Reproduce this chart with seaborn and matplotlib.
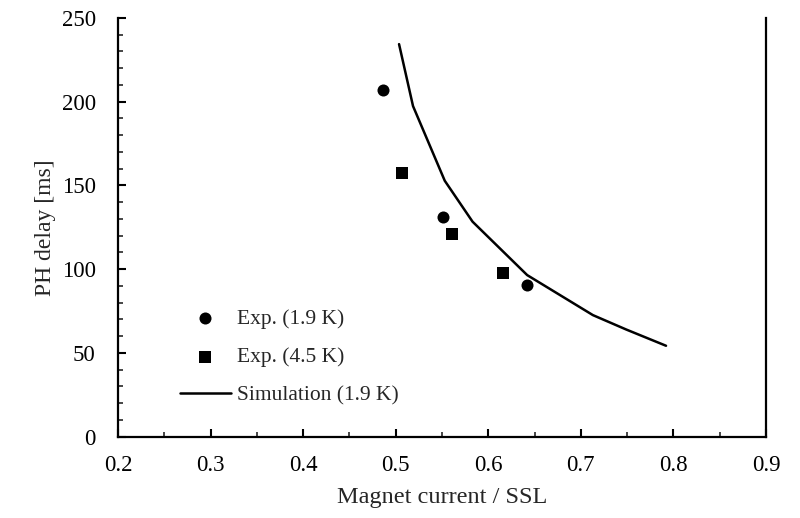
import matplotlib
matplotlib.use("Agg")
import matplotlib.pyplot as plt
import seaborn as sns
import pandas as pd
from matplotlib.ticker import MultipleLocator

# Data
exp19_x = [0.486, 0.551, 0.642]
exp19_y = [207.0, 131.0, 90.6]
exp45_x = [0.507, 0.561, 0.616]
exp45_y = [157.6, 121.0, 97.9]
sim_x = [0.5036, 0.5187, 0.553, 0.583, 0.642, 0.713, 0.749, 0.792]
sim_y = [234.4, 197.4, 152.8, 128.4, 96.5, 72.6, 64.0, 54.3]

sns.set_style("ticks")
plt.rcParams['font.family'] = ['Liberation Serif', 'DejaVu Serif']
plt.rcParams['mathtext.fontset'] = 'stix'

fig = plt.figure(figsize=(8, 5.18), dpi=100)
ax = fig.add_axes([118/800, 1-436.7/518, (766-118)/800, (436.7-18)/518])

df19 = pd.DataFrame({"x": exp19_x, "y": exp19_y})
df45 = pd.DataFrame({"x": exp45_x, "y": exp45_y})
dfs = pd.DataFrame({"x": sim_x, "y": sim_y})

sns.scatterplot(data=df19, x="x", y="y", ax=ax, marker="o", s=75, color="black",
                edgecolor="black", linewidth=0, label="Exp. (1.9 K)", zorder=3)
sns.scatterplot(data=df45, x="x", y="y", ax=ax, marker="s", s=70, color="black",
                edgecolor="black", linewidth=0, label="Exp. (4.5 K)", zorder=3)
sns.lineplot(data=dfs, x="x", y="y", ax=ax, color="black", linewidth=1.8,
             label="Simulation (1.9 K)", sort=False, estimator=None)

ax.set_xlim(0.2, 0.9)
ax.set_ylim(0, 250)
ax.xaxis.set_major_locator(MultipleLocator(0.1))
ax.xaxis.set_minor_locator(MultipleLocator(0.05))
ax.yaxis.set_major_locator(MultipleLocator(50))
ax.yaxis.set_minor_locator(MultipleLocator(10))
ax.set_xticklabels([f"{v:.1f}" for v in ax.get_xticks()])
ax.tick_params(which="major", direction="in", length=6, width=1.5, labelsize=16.5, colors="black")
ax.tick_params(which="minor", direction="in", length=3.5, width=1.2)
ax.tick_params(axis="x", which="major", pad=13)
ax.tick_params(axis="y", which="major", pad=16)

for s in ["left", "bottom", "right"]:
    ax.spines[s].set_linewidth(1.6)
    ax.spines[s].set_color("black")
ax.spines["top"].set_visible(False)

ax.set_xlabel("Magnet current / SSL", fontsize=17.5, labelpad=8)
ax.set_ylabel("PH delay [ms]", fontsize=17, labelpad=4)

leg = ax.legend(loc="upper left", bbox_to_anchor=(180/800, 1-309/518),
                bbox_transform=fig.transFigure, frameon=False, fontsize=15.5,
                handlelength=2.35, handletextpad=0.3, labelspacing=0.85,
                borderpad=0, borderaxespad=0, markerscale=1.0)

fig.savefig("out.png", dpi=100)
